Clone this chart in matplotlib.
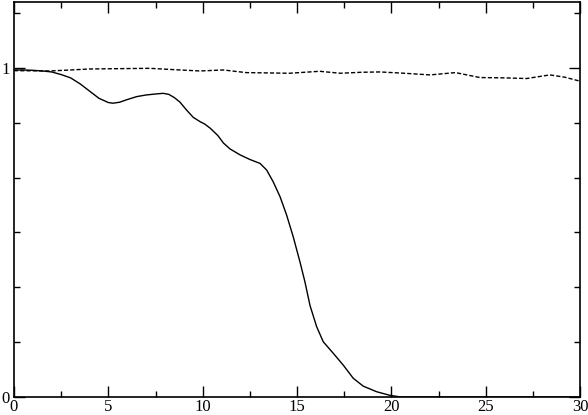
import numpy as np
import matplotlib
matplotlib.use("Agg")
import matplotlib.pyplot as plt
from matplotlib.ticker import MultipleLocator, AutoMinorLocator

# ==========================
# Data
# ==========================
x_solid = [0.0, 0.5, 1.0, 1.5, 2.0, 2.5, 3.0, 3.5, 4.0, 4.5, 5.0, 5.25, 5.6, 6.0, 6.5,
           7.0, 7.5, 7.9, 8.2, 8.5, 8.8, 9.15, 9.5, 9.86, 10.1, 10.4, 10.8, 11.1, 11.45,
           11.98, 12.5, 13.04, 13.39, 13.74, 14.1, 14.45, 14.8, 15.16, 15.42, 15.69,
           16.04, 16.39, 16.92, 17.45, 17.98, 18.51, 19.22, 19.93, 20.5, 25.0, 30.0]
y_solid = [0.994, 0.994, 0.993, 0.991, 0.988, 0.980, 0.970, 0.952, 0.930, 0.908, 0.895,
           0.893, 0.896, 0.904, 0.913, 0.918, 0.921, 0.923, 0.920, 0.910, 0.896, 0.872,
           0.850, 0.837, 0.830, 0.817, 0.795, 0.772, 0.754, 0.736, 0.722, 0.710, 0.690,
           0.654, 0.609, 0.553, 0.487, 0.410, 0.350, 0.278, 0.214, 0.168, 0.133, 0.097,
           0.057, 0.033, 0.016, 0.005, 0.0, 0.0, 0.0]

x_dashed = [0.0, 1.9, 3.0, 4.0, 5.5, 7.2, 8.8, 9.86, 11.1, 12.3, 13.5, 14.6, 16.2, 17.3,
            18.4, 19.4, 20.7, 22.05, 23.4, 24.7, 26.0, 27.17, 28.4, 29.2, 30.0]
y_dashed = [0.992, 0.991, 0.994, 0.997, 0.998, 0.999, 0.994, 0.991, 0.994, 0.986, 0.985,
            0.984, 0.990, 0.984, 0.987, 0.988, 0.984, 0.979, 0.986, 0.971, 0.970, 0.968,
            0.979, 0.972, 0.960]

x_ticklabels = ['0', '5', '10', '15', '20', '25', '30']
y_ticklabels = ['0', '1']

# ==========================
# Plotting
# ==========================
plt.rcParams['font.family'] = ['Liberation Serif', 'DejaVu Serif']

fig = plt.figure(figsize=(5.88, 4.15), dpi=100)
ax = fig.add_axes([14 / 588, 18 / 415, 566 / 588, 394.8 / 415])

ax.plot(x_solid, y_solid, color='black', lw=1.0)
ax.plot(x_dashed, y_dashed, color='black', lw=1.0, linestyle=(0, (3, 1.5)))

ax.set_xlim(0, 30)
ax.set_ylim(0, 1.2)

ax.xaxis.set_minor_locator(MultipleLocator(2.5))
ax.yaxis.set_minor_locator(AutoMinorLocator(6))
ax.set_xticks(np.arange(0, 31, 5))
ax.set_xticklabels(x_ticklabels)
ax.set_yticks([0, 1])
ax.set_yticklabels(y_ticklabels)

ax.tick_params(which='both', direction='in', top=True, right=True, width=1.0,
               labelsize=12, colors='black')
ax.tick_params(which='major', length=8)
ax.tick_params(which='minor', length=4.3)
ax.tick_params(axis='x', which='major', pad=1.5)
ax.tick_params(axis='y', which='major', pad=3)

for sp in ax.spines.values():
    sp.set_linewidth(1.2)

fig.savefig('out.png', dpi=100)
